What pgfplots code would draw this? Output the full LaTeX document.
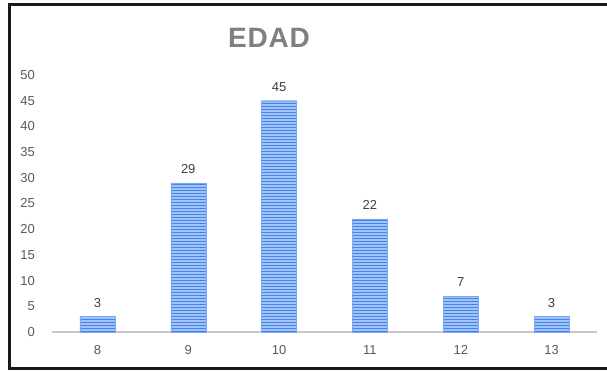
\documentclass[border=0pt]{standalone}
\usepackage{pgfplots}
\pgfplotsset{compat=1.18}
\usepackage{fontspec}
\setmainfont{Liberation Sans}
\usetikzlibrary{patterns}
\definecolor{tickgray}{RGB}{89,89,89}
\definecolor{labgray}{RGB}{64,64,64}
\definecolor{titlegray}{RGB}{128,128,128}
\definecolor{barfill}{RGB}{160,196,248}
\definecolor{barline}{RGB}{70,130,235}
\definecolor{axgray}{RGB}{200,200,200}
\begin{document}
\begin{tikzpicture}[x=1pt,y=1pt]
\useasboundingbox (0,0) rectangle (607,371);
\clip (0,0) rectangle (607,371);
\fill[white] (0,0) rectangle (607,371);
\draw[line width=2.5pt, black!90] (607,366.5) -- (9.5,366.5) -- (9.5,2.5) -- (607,2.5);
\begin{axis}[
  at={(52pt,39pt)}, anchor=south west,
  scale only axis, width=545pt, height=257pt,
  xmin=7.5, xmax=13.5, ymin=0, ymax=50,
  ybar, bar width=35pt,
  xtick={8,9,10,11,12,13}, ytick={0,5,...,50},
  axis x line*=bottom, axis y line*=left,
  x axis line style={draw=axgray, line width=1.5pt},
  y axis line style={draw=none},
  major tick length=0pt,
  tick style={draw=none},
  ticklabel style={font=\fontsize{13}{15}\selectfont, text=tickgray},
  /pgf/number format/assume math mode=true,
  yticklabel style={anchor=east, inner sep=0pt, xshift=-17pt},
  xticklabel style={anchor=north, inner sep=0pt, yshift=-13pt},
  nodes near coords,
  nodes near coords style={font=\fontsize{13}{15}\selectfont, text=labgray, anchor=south, inner sep=0pt, yshift=9pt},
  clip=false,
]
\addplot[draw=barline!70, line width=0.3pt, fill=barfill, postaction={pattern=horizontal lines, pattern color=barline}] coordinates {(8,3) (9,29) (10,45) (11,22) (12,7) (13,3)};
\end{axis}
\node[text=titlegray, font=\fontsize{28}{30}\selectfont\bfseries\addfontfeatures{LetterSpace=3}] at (269,333) {EDAD};
\end{tikzpicture}
\end{document}
